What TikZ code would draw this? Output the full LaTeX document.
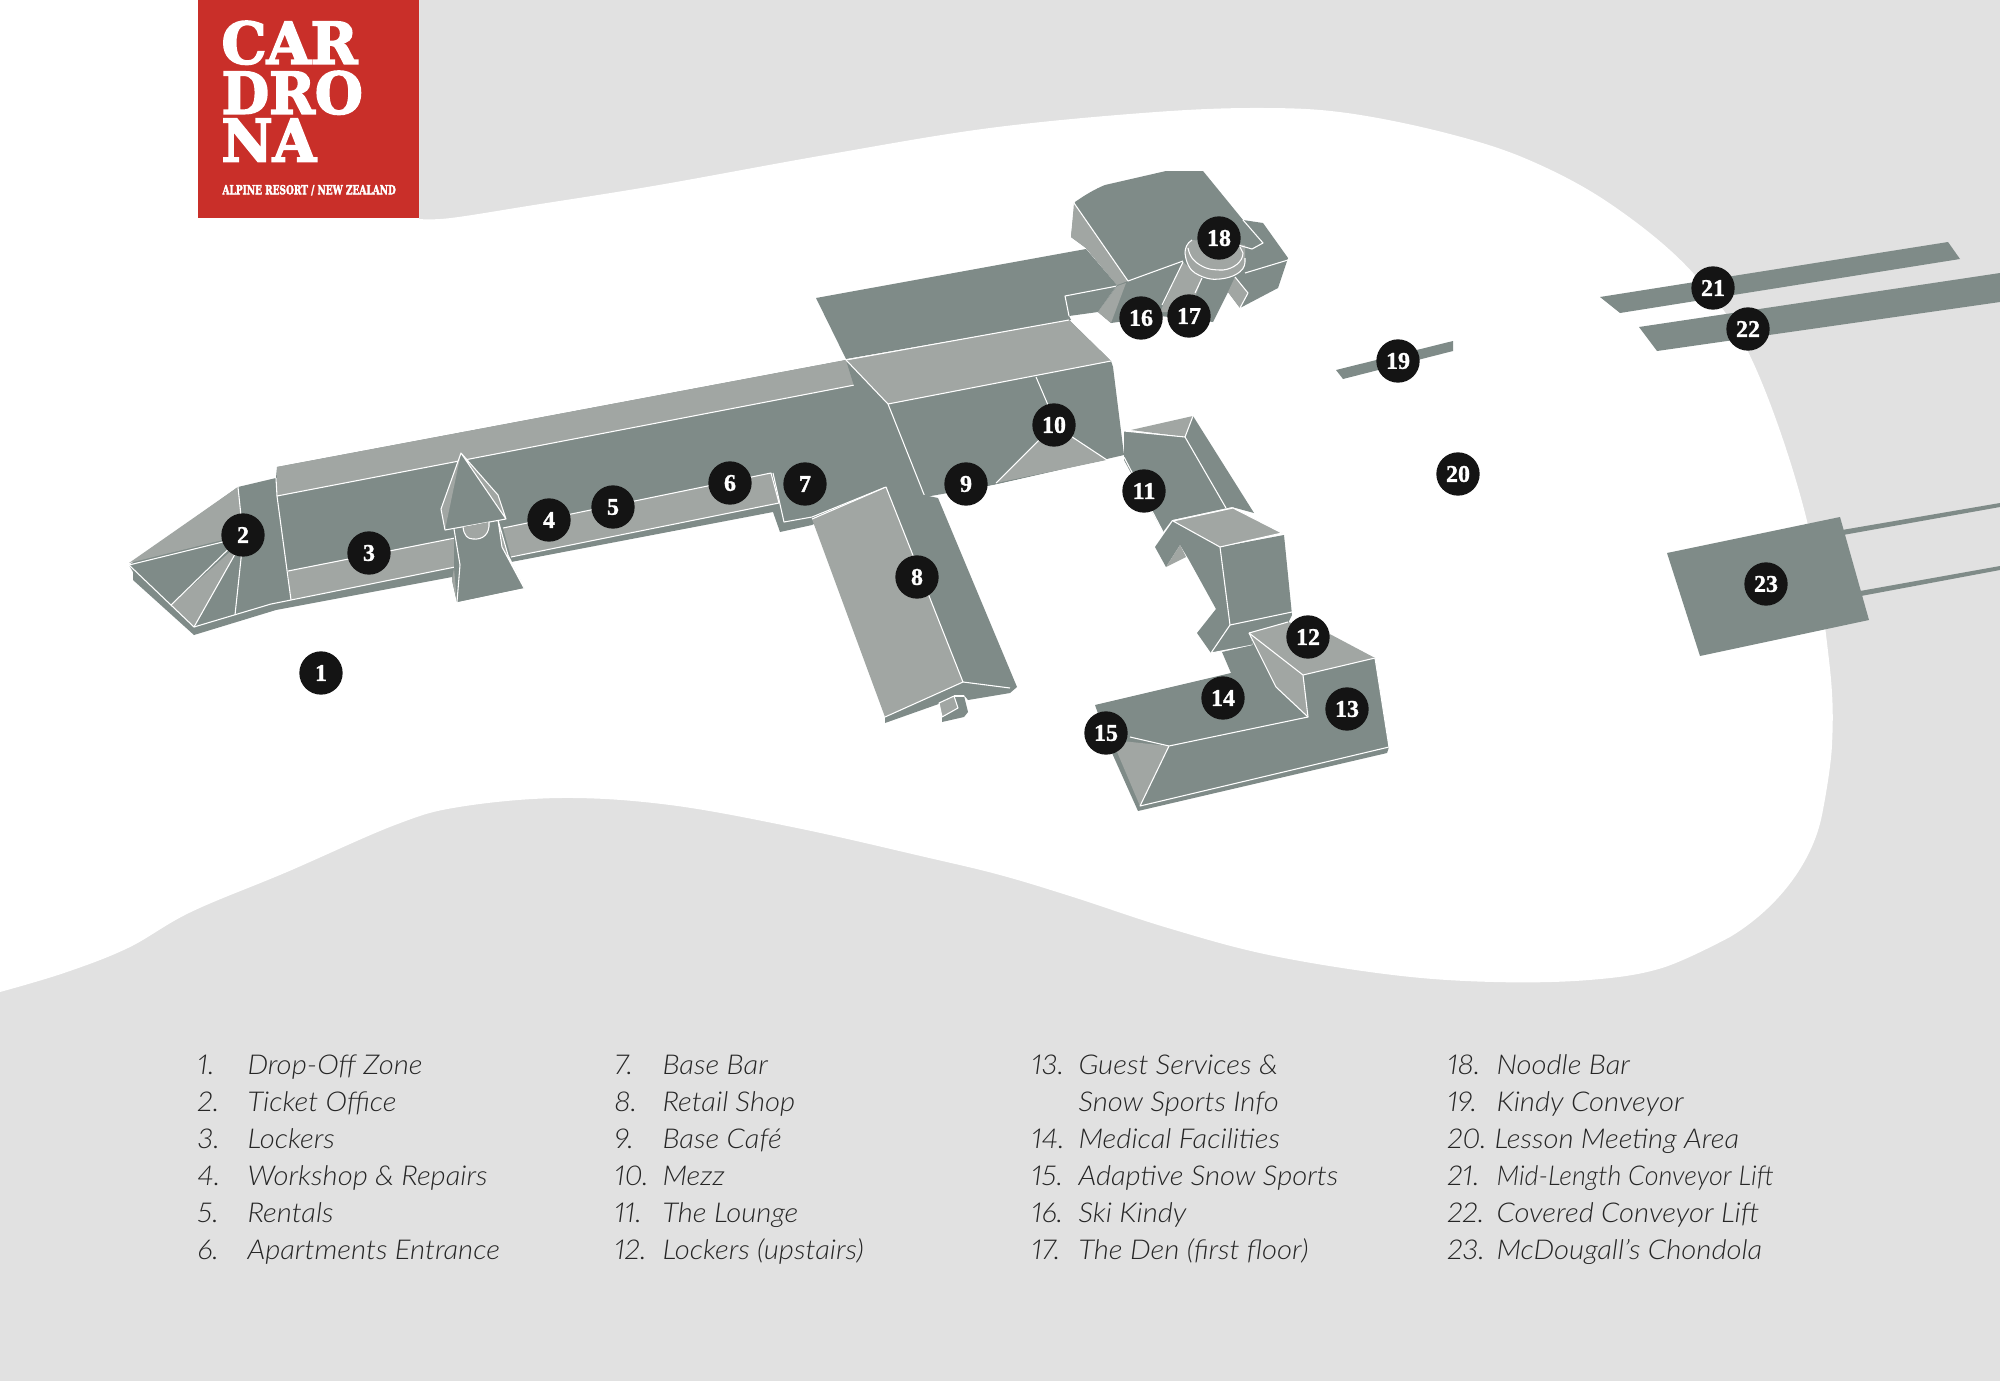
\documentclass[tikz,border=0pt]{standalone}
\usepackage{tikz}
\usepackage{graphicx}
\usepackage{fontspec}
\newfontfamily\legendfont{Lato}[UprightFont=* Light,ItalicFont=* Light Italic,FakeStretch=1.07,Numbers=Proportional]
\newfontfamily\markerfont{Liberation Serif}[BoldFeatures={FakeBold=1.2}]
\newfontfamily\logofont{DejaVu Serif}[BoldFeatures={FakeBold=3}]
\definecolor{sheet}{HTML}{E1E1E1}
\definecolor{logored}{HTML}{C92F29}
\definecolor{darkroof}{HTML}{7F8B88}
\definecolor{lightroof}{HTML}{A1A6A3}
\definecolor{markerblack}{HTML}{141414}
\definecolor{legendgrey}{HTML}{262626}
\tikzset{every picture/.style={line width=0.75pt}}
\tikzset{
	darkface/.style={fill=darkroof},
	lightface/.style={fill=lightroof},
	roofline/.style={draw=white,line width=0.8pt,line join=round},
	marker/.style={circle,fill=markerblack,minimum size=32.5pt,inner sep=0pt,text=white,font=\markerfont\bfseries\fontsize{18}{18}\selectfont},
	legendtext/.style={anchor=base west,inner sep=0pt,yshift=-0.75pt,text=legendgrey,font=\legendfont\itshape\fontsize{20.5}{22}\selectfont},
	logotext/.style={anchor=south west,inner sep=0pt,text=white}
}

\begin{document}
\begin{tikzpicture}[x=0.75pt,y=0.75pt,yscale=-1,xscale=1]
	\useasboundingbox (0,0) rectangle (2000,1381);
	
	%Shape: Background
	\fill [sheet] (0,0) rectangle (2000,1381);
	%Shape: Snow field
	\fill [white] (0,0) -- (419,0) -- plot [smooth,tension=0.6] coordinates {(419,219) (451,218) (534,205) (659,185) (825,155) (990,128) (1156,112) (1264,108) (1347,113) (1446,133) (1529,160) (1612,205) (1693,273) (1752,360) (1805,513) (1829,660) (1832,745) (1822,815)} .. controls (1812,865) and (1775,910) .. (1730,937) -- plot [smooth,tension=0.6] coordinates {(1730,937) (1662,968) (1589,980) (1494,982) (1393,975) (1269,955) (1168,928) (1073,897) (1000,875) (925,857) (797,828) (670,805) (561,798) (459,807) (395,825) (287,872) (191,912) (128,948) (64,973) (0,992)} -- cycle;
	
	%Shape: Logo
	\fill [logored] (198,0) rectangle (419,218);
	% Text Node
	\node [logotext] (logoa) at (221,65) {\resizebox{102pt}{32pt}{\logofont\bfseries CAR}};
	% Text Node
	\node [logotext] (logob) at (221,115) {\resizebox{106pt}{32pt}{\logofont\bfseries DRO}};
	% Text Node
	\node [logotext] (logoc) at (221,162) {\resizebox{71pt}{32pt}{\logofont\bfseries NA}};
	% Text Node
	\node [logotext] (logod) at (222,196) {\resizebox{130pt}{7pt}{\logofont\bfseries ALPINE RESORT / NEW ZEALAND}};
	
	%Shape: Main wing
	\fill [darkface] (129,565) -- (238,487) -- (276,478) -- (277,467) -- (846,360) -- (888,404) -- (925,497) -- (885,487) -- (812,525) -- (780,532) -- (773,512) -- (511,562) -- (523,588) -- (457,602) -- (452,577) -- (276,610) -- (194,635) -- (133,580) -- (133,572) -- cycle;
	%Shape: Main wing light faces
	\fill [lightface] (277,467) -- (846,360) -- (865,383) -- (277,496) -- cycle;
	\fill [lightface] (288,571) -- (455,538) -- (455,567) -- (291,600) -- cycle;
	\fill [lightface] (503,528) -- (771,473) -- (779,503) -- (511,557) -- cycle;
	\fill [lightface] (129,563) -- (238,487) -- (243,535) -- cycle;
	\fill [lightface] (171,605) -- (243,540) -- (194,627) -- cycle;
	%Straight Lines
	\draw [roofline] (277,496) -- (865,383);
	\draw [roofline] (276,478) -- (277,496) -- (291,600);
	\draw [roofline] (288,571) -- (455,538);
	\draw [roofline] (129,565) -- (243,537);
	\draw [roofline] (129,565) -- (194,627) -- (271,604) -- (291,600) -- (455,567);
	\draw [roofline] (238,487) -- (243,535) -- (171,605);
	\draw [roofline] (243,540) -- (194,627);
	\draw [roofline] (243,540) -- (235,615);
	\draw [roofline] (503,528) -- (771,473) -- (779,503) -- (511,557);
	\draw [roofline] (773,473) -- (784,522) -- (812,517) -- (886,487) -- (925,497) -- (987,487);
	
	%Shape: Tower
	\fill [darkface] (454,529) -- (498,520) -- (508,555) -- (524,588) -- (457,602) -- (452,580) -- (454,568) -- cycle;
	\fill [lightface] (454,568) -- (452,580) -- (457,602) -- cycle;
	\fill [lightface] (498,520) -- (508,555) -- (524,588) -- (502,547) -- cycle;
	\fill [darkface] (461,453) -- (506,519) -- (445,530) -- cycle;
	\fill [lightface] (461,453) -- (441,509) -- (445,530) -- cycle;
	\fill [lightface] (461,453) -- (498,495) -- (506,519) -- cycle;
	\draw [roofline] (461,453) -- (506,519) -- (445,530) -- (441,509) -- (461,453) -- (498,495) -- (506,519);
	\draw [roofline] (454,529) -- (460,565) -- (457,602);
	\draw [roofline] (498,520) -- (508,555) -- (524,588) -- (502,547) -- (498,520);
	\draw [roofline,fill=lightroof] (463,527) .. controls (464,536) and (468,539) .. (473,539) .. controls (483,540) and (490,534) .. (489,522);
	
	%Shape: Central block
	\fill [darkface] (816,298) -- (1086,249) -- (1117,285) -- (1098,312) -- (1069,316) -- (1071,320) -- (846,359) -- cycle;
	\fill [darkface] (846,360) -- (1069,320) -- (1111,361) -- (1113,367) -- (1124,455) -- (994,485) -- (925,497) -- (885,487) -- cycle;
	\fill [lightface] (846,360) -- (1069,320) -- (1111,361) -- (888,404) -- cycle;
	\fill [lightface] (996,483) -- (1054,425) -- (1107,460) -- cycle;
	\draw [roofline] (846,360) -- (1069,320);
	\draw [roofline] (846,360) -- (888,404) -- (925,497);
	\draw [roofline] (888,404) -- (1111,361);
	\draw [roofline] (1036,377) -- (1048,405);
	\draw [roofline] (996,483) -- (1054,425) -- (1107,460);
	\draw [roofline] (987,487) -- (1124,457);
	\draw [roofline] (1117,286) -- (1065,296) -- (1069,316);
	
	%Shape: North building
	\fill [darkface] (1075,202) .. controls (1085,195) and (1095,189) .. (1105,185) -- (1166,171) -- (1203,171) -- (1243,220) -- (1263,223) -- (1288,258) -- (1278,288) -- (1240,308) -- (1228,292) -- (1213,322) -- (1160,316) -- (1111,323) -- (1098,312) -- (1117,285) -- (1086,248) -- (1071,237) -- cycle;
	\fill [lightface] (1074,203) -- (1071,237) -- (1086,248) -- (1117,285) -- (1128,281) -- cycle;
	\fill [lightface] (1117,286) -- (1126,283) -- (1111,323) -- (1098,312) -- cycle;
	\fill [lightface] (1183,262) -- (1202,278) -- (1190,312) -- (1160,312) -- cycle;
	\fill [lightface] (1235,277) -- (1248,293) -- (1240,308) -- (1228,292) -- cycle;
	%Shape: Noodle bar drum
	\fill [lightface] (1192,240) .. controls (1187,243) and (1185,248) .. (1185,253) .. controls (1186,263) and (1190,270) .. (1195,273) .. controls (1205,279) and (1213,280) .. (1220,279) .. controls (1232,278) and (1245,272) .. (1245,262) -- (1245,245) -- cycle;
	\draw [roofline] (1192,240) .. controls (1187,243) and (1185,248) .. (1185,253) .. controls (1186,263) and (1190,270) .. (1195,273) .. controls (1205,279) and (1213,280) .. (1220,279) .. controls (1232,278) and (1245,272) .. (1245,262) -- (1245,258);
	\draw [roofline] (1188,248) .. controls (1190,258) and (1195,262) .. (1200,265) .. controls (1208,270) and (1215,270) .. (1223,270) .. controls (1233,269) and (1243,262) .. (1243,253) -- (1240,247);
	\draw [roofline] (1074,203) -- (1128,281) -- (1183,261);
	\draw [roofline] (1183,262) -- (1162,305);
	\draw [roofline] (1202,278) -- (1195,293);
	\draw [roofline] (1235,277) -- (1248,293) -- (1240,308);
	\draw [roofline] (1245,273) -- (1288,260);
	\draw [roofline] (1238,245) -- (1252,249) -- (1263,243) -- (1243,220);
	
	%Shape: Retail building
	\fill [darkface] (886,487) -- (938,498) -- (1017,687) -- (1010,693) -- (968,700) -- (964,695) -- (885,723) -- (885,717) -- (963,682) -- cycle;
	\fill [lightface] (812,519) -- (886,487) -- (963,682) -- (885,717) -- cycle;
	\draw [roofline] (812,519) -- (886,487) -- (963,682) -- (885,717);
	\draw [roofline] (963,682) -- (1010,688);
	%Shape: Retail porch
	\fill [darkface] (942,717) -- (954,696) -- (964,696) -- (968,712) -- (964,717) -- (942,722) -- cycle;
	\fill [lightface] (939,703) -- (954,696) -- (958,708) -- (942,717) -- cycle;
	\draw [roofline] (939,703) -- (954,696) -- (958,708) -- (942,717) -- cycle;
	\draw [roofline] (954,696) -- (964,696);
	
	%Shape: Lounge
	\fill [darkface] (1124,431) -- (1185,437) -- (1193,416) -- (1254,513) -- (1232,507) -- (1172,520) -- (1163,532) -- (1124,460) -- cycle;
	\fill [lightface] (1131,430) -- (1193,416) -- (1185,437) -- cycle;
	\draw [roofline] (1124,431) -- (1185,437) -- (1193,416);
	\draw [roofline] (1185,437) -- (1226,508);
	\draw [roofline] (1124,457) -- (1163,532);
	
	%Shape: Lounge block
	\fill [darkface] (1173,521) -- (1220,547) -- (1284,535) -- (1292,615) -- (1288,623) -- (1249,633) -- (1253,645) -- (1211,653) -- (1197,633) -- (1216,609) -- (1189,560) -- (1180,545) -- (1166,567) -- (1155,547) -- cycle;
	\fill [lightface] (1173,521) -- (1233,508) -- (1282,533) -- (1220,547) -- cycle;
	\fill [lightface] (1180,545) -- (1186,557) -- (1166,567) -- cycle;
	\draw [roofline] (1173,521) -- (1233,508) -- (1282,533) -- (1220,547) -- cycle;
	\draw [roofline] (1220,547) -- (1230,625) -- (1292,612);
	\draw [roofline] (1230,625) -- (1211,653) -- (1253,645);
	
	%Shape: Guest services
	\fill [darkface] (1095,705) -- (1231,673) -- (1222,652) -- (1253,645) -- (1249,633) -- (1288,625) -- (1375,658) -- (1389,747) -- (1387,753) -- (1138,811) -- (1112,753) -- cycle;
	\fill [lightface] (1249,633) -- (1288,622) -- (1326,632) -- (1375,658) -- (1303,675) -- cycle;
	\fill [lightface] (1249,633) -- (1303,675) -- (1308,717) -- (1276,687) -- cycle;
	\fill [lightface] (1112,740) -- (1169,746) -- (1140,806) -- cycle;
	\draw [roofline] (1249,633) -- (1288,622);
	\draw [roofline] (1249,633) -- (1303,675) -- (1375,658) -- (1389,747) -- (1140,806) -- (1169,746) -- (1308,717) -- (1303,675);
	\draw [roofline] (1249,633) -- (1276,687) -- (1308,717);
	\draw [roofline] (1130,737) -- (1169,746);
	
	%Shape: Conveyors
	\fill [darkface] (1336,370) -- (1453,341) -- (1453,351) -- (1343,379) -- cycle;
	\fill [darkface] (1600,297) -- (1948,242) -- (1960,259) -- (1620,313) -- cycle;
	\fill [darkface] (1639,327) -- (2000,273) -- (2000,302) -- (1657,351) -- cycle;
	%Shape: Chondola station
	\fill [darkface] (1667,553) -- (1840,517) -- (1869,620) -- (1700,656) -- cycle;
	\fill [darkface] (1842,530) -- (2000,503) -- (2000,507) -- (1843,535) -- cycle;
	\fill [darkface] (1860,591) -- (2000,566) -- (2000,570) -- (1861,596) -- cycle;
	
	% Text Node
	\node [marker] (stopa) at (321,673) {1};
	% Text Node
	\node [marker] (stopb) at (243,535) {2};
	% Text Node
	\node [marker] (stopc) at (369,553) {3};
	% Text Node
	\node [marker] (stopd) at (549,520) {4};
	% Text Node
	\node [marker] (stope) at (613,507) {5};
	% Text Node
	\node [marker] (stopf) at (730,483) {6};
	% Text Node
	\node [marker] (stopg) at (805,484) {7};
	% Text Node
	\node [marker] (stoph) at (917,577) {8};
	% Text Node
	\node [marker] (stopi) at (966,484) {9};
	% Text Node
	\node [marker] (stopj) at (1054,425) {10};
	% Text Node
	\node [marker] (stopk) at (1144,491) {11};
	% Text Node
	\node [marker] (stopl) at (1308,637) {12};
	% Text Node
	\node [marker] (stopm) at (1347,709) {13};
	% Text Node
	\node [marker] (stopn) at (1223,698) {14};
	% Text Node
	\node [marker] (stopo) at (1106,733) {15};
	% Text Node
	\node [marker] (stopp) at (1141,318) {16};
	% Text Node
	\node [marker] (stopq) at (1189,316) {17};
	% Text Node
	\node [marker] (stopr) at (1219,238) {18};
	% Text Node
	\node [marker] (stops) at (1398,361) {19};
	% Text Node
	\node [marker] (stopt) at (1458,474) {20};
	% Text Node
	\node [marker] (stopu) at (1713,288) {21};
	% Text Node
	\node [marker] (stopv) at (1748,329) {22};
	% Text Node
	\node [marker] (stopw) at (1766,584) {23};
	
	% Text Node
	\node [legendtext] (numa) at (197,1073) {1.};
	\node [legendtext] (itema) at (247,1073) {Drop-Off Zone};
	% Text Node
	\node [legendtext] (numb) at (197,1110) {2.};
	\node [legendtext] (itemb) at (247,1110) {Ticket Office};
	% Text Node
	\node [legendtext] (numc) at (197,1147) {3.};
	\node [legendtext] (itemc) at (247,1147) {Lockers};
	% Text Node
	\node [legendtext] (numd) at (197,1184) {4.};
	\node [legendtext] (itemd) at (247,1184) {Workshop \& Repairs};
	% Text Node
	\node [legendtext] (nume) at (197,1221) {5.};
	\node [legendtext] (iteme) at (247,1221) {Rentals};
	% Text Node
	\node [legendtext] (numf) at (197,1258) {6.};
	\node [legendtext] (itemf) at (247,1258) {Apartments Entrance};
	% Text Node
	\node [legendtext] (numg) at (614,1073) {7.};
	\node [legendtext] (itemg) at (662,1073) {Base Bar};
	% Text Node
	\node [legendtext] (numh) at (614,1110) {8.};
	\node [legendtext] (itemh) at (662,1110) {Retail Shop};
	% Text Node
	\node [legendtext] (numi) at (614,1147) {9.};
	\node [legendtext] (itemi) at (662,1147) {Base Café};
	% Text Node
	\node [legendtext] (numj) at (614,1184) {10.};
	\node [legendtext] (itemj) at (662,1184) {Mezz};
	% Text Node
	\node [legendtext] (numk) at (614,1221) {11.};
	\node [legendtext] (itemk) at (662,1221) {The Lounge};
	% Text Node
	\node [legendtext] (numl) at (614,1258) {12.};
	\node [legendtext] (iteml) at (662,1258) {Lockers (upstairs)};
	% Text Node
	\node [legendtext] (numm) at (1031,1073) {13.};
	\node [legendtext] (itemm) at (1078,1073) {Guest Services \&};
	\node [legendtext] (itemmb) at (1078,1110) {Snow Sports Info};
	% Text Node
	\node [legendtext] (numn) at (1031,1147) {14.};
	\node [legendtext] (itemn) at (1078,1147) {Medical Facilities};
	% Text Node
	\node [legendtext] (numo) at (1031,1184) {15.};
	\node [legendtext] (itemo) at (1078,1184) {Adaptive Snow Sports};
	% Text Node
	\node [legendtext] (nump) at (1031,1221) {16.};
	\node [legendtext] (itemp) at (1078,1221) {Ski Kindy};
	% Text Node
	\node [legendtext] (numq) at (1031,1258) {17.};
	\node [legendtext] (itemq) at (1078,1258) {The Den (first floor)};
	% Text Node
	\node [legendtext] (numr) at (1447,1073) {18.};
	\node [legendtext] (itemr) at (1496,1073) {Noodle Bar};
	% Text Node
	\node [legendtext] (nums) at (1447,1110) {19.};
	\node [legendtext] (items) at (1496,1110) {Kindy Conveyor};
	% Text Node
	\node [legendtext] (numt) at (1447,1147) {20.};
	\node [legendtext] (itemt) at (1494,1147) {Lesson Meeting Area};
	% Text Node
	\node [legendtext] (numu) at (1447,1184) {21.};
	\node [legendtext] (itemu) at (1496,1184) {\scalebox{0.92}[1]{Mid-Length Conveyor Lift}};
	% Text Node
	\node [legendtext] (numv) at (1447,1221) {22.};
	\node [legendtext] (itemv) at (1496,1221) {Covered Conveyor Lift};
	% Text Node
	\node [legendtext] (numw) at (1447,1258) {23.};
	\node [legendtext] (itemw) at (1496,1258) {McDougall’s Chondola};
\end{tikzpicture}
\end{document}
